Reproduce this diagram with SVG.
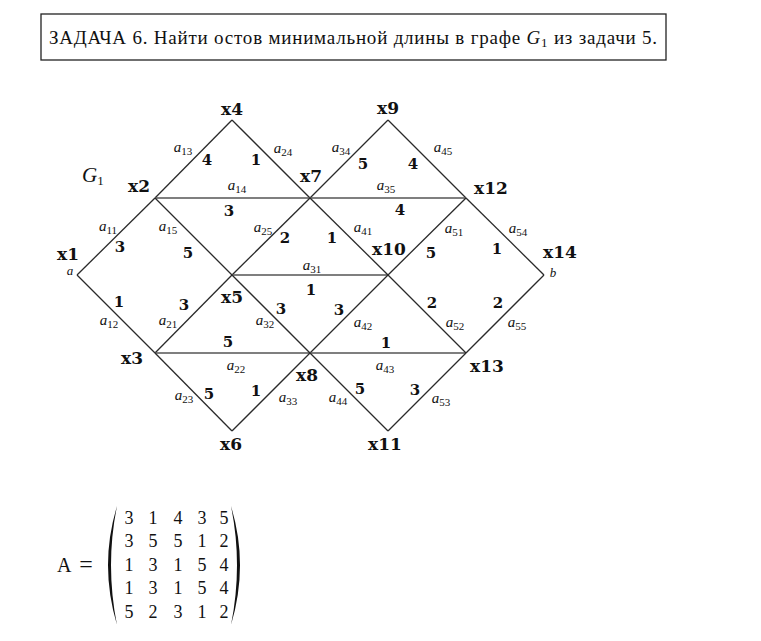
<svg xmlns="http://www.w3.org/2000/svg" width="761" height="641" viewBox="0 0 761 641" font-family="'Liberation Serif', 'Times New Roman', 'DejaVu Serif', serif">
<style>
text{font-family:'Liberation Serif','Times New Roman',serif;fill:#111}
.ttl{font-size:19px}
.nd{font-family:'DejaVu Serif','Liberation Serif',serif;font-weight:bold;font-size:17px;text-anchor:middle}
.w{font-family:'DejaVu Serif','Liberation Serif',serif;font-weight:bold;font-size:15px;text-anchor:middle}
.al{font-style:italic;font-size:15px;text-anchor:middle}
.sub{font-style:normal;font-size:11px}
.mx{font-size:18px;text-anchor:middle}
.e{stroke:#2a2a2a;stroke-width:1.3;fill:none}
.h{stroke:#555;stroke-width:1.6;fill:none}
</style>
<rect x="0" y="0" width="761" height="641" fill="#fff"/>
<g id="title">
<rect x="41" y="14" width="625" height="46" fill="#fff" stroke="#222" stroke-width="1.3"/>
<text class="ttl" x="49" y="44" textLength="608" lengthAdjust="spacing" font-family="'Liberation Serif', serif">ЗАДАЧА 6. Найти остов минимальной длины в графе <tspan font-style="italic">G</tspan><tspan font-size="13" dy="3">1</tspan><tspan dy="-3"> из задачи 5.</tspan></text>
</g>
<g id="connectors">
<line class="e" x1="77" y1="275" x2="155" y2="198"/>
<line class="e" x1="77" y1="275" x2="155" y2="353"/>
<line class="e" x1="155" y1="198" x2="232" y2="120"/>
<line class="e" x1="232" y1="120" x2="310" y2="198"/>
<line class="h" x1="155" y1="198" x2="310" y2="198"/>
<line class="e" x1="155" y1="198" x2="232" y2="275"/>
<line class="e" x1="155" y1="353" x2="232" y2="275"/>
<line class="h" x1="155" y1="353" x2="310" y2="353"/>
<line class="e" x1="155" y1="353" x2="232" y2="431"/>
<line class="e" x1="232" y1="275" x2="310" y2="198"/>
<line class="h" x1="232" y1="275" x2="388" y2="275"/>
<line class="e" x1="232" y1="275" x2="310" y2="353"/>
<line class="e" x1="232" y1="431" x2="310" y2="353"/>
<line class="e" x1="310" y1="198" x2="388" y2="120"/>
<line class="e" x1="388" y1="120" x2="466" y2="198"/>
<line class="h" x1="310" y1="198" x2="466" y2="198"/>
<line class="e" x1="310" y1="198" x2="388" y2="275"/>
<line class="e" x1="310" y1="353" x2="388" y2="275"/>
<line class="h" x1="310" y1="353" x2="466" y2="353"/>
<line class="e" x1="310" y1="353" x2="388" y2="431"/>
<line class="e" x1="388" y1="275" x2="466" y2="198"/>
<line class="e" x1="388" y1="275" x2="466" y2="353"/>
<line class="e" x1="388" y1="431" x2="466" y2="353"/>
<line class="e" x1="466" y1="198" x2="544" y2="275"/>
<line class="e" x1="466" y1="353" x2="544" y2="275"/>
</g>
<g id="edge-labels">
<text class="al" x="183" y="152">a<tspan class="sub" dy="3">13</tspan></text>
<text class="w" x="207" y="165">4</text>
<text class="al" x="283" y="153">a<tspan class="sub" dy="3">24</tspan></text>
<text class="w" x="256" y="165">1</text>
<text class="al" x="341" y="152">a<tspan class="sub" dy="3">34</tspan></text>
<text class="w" x="363" y="169">5</text>
<text class="al" x="443" y="152">a<tspan class="sub" dy="3">45</tspan></text>
<text class="w" x="413" y="169">4</text>
<text class="al" x="237" y="190">a<tspan class="sub" dy="3">14</tspan></text>
<text class="w" x="229" y="216">3</text>
<text class="al" x="386" y="190">a<tspan class="sub" dy="3">35</tspan></text>
<text class="w" x="400" y="215">4</text>
<text class="al" x="108" y="231">a<tspan class="sub" dy="3">11</tspan></text>
<text class="w" x="120" y="252">3</text>
<text class="al" x="168" y="231">a<tspan class="sub" dy="3">15</tspan></text>
<text class="w" x="188" y="258">5</text>
<text class="al" x="263" y="232">a<tspan class="sub" dy="3">25</tspan></text>
<text class="w" x="285" y="243">2</text>
<text class="al" x="363" y="232">a<tspan class="sub" dy="3">41</tspan></text>
<text class="w" x="332" y="243">1</text>
<text class="al" x="454" y="233">a<tspan class="sub" dy="3">51</tspan></text>
<text class="w" x="431" y="258">5</text>
<text class="al" x="518" y="233">a<tspan class="sub" dy="3">54</tspan></text>
<text class="w" x="497" y="254">1</text>
<text class="al" x="312" y="270">a<tspan class="sub" dy="3">31</tspan></text>
<text class="w" x="311" y="295">1</text>
<text class="al" x="109" y="325">a<tspan class="sub" dy="3">12</tspan></text>
<text class="w" x="119" y="307">1</text>
<text class="al" x="168" y="325">a<tspan class="sub" dy="3">21</tspan></text>
<text class="w" x="184" y="310">3</text>
<text class="al" x="265" y="325">a<tspan class="sub" dy="3">32</tspan></text>
<text class="w" x="281" y="314">3</text>
<text class="al" x="363" y="327">a<tspan class="sub" dy="3">42</tspan></text>
<text class="w" x="339" y="315">3</text>
<text class="al" x="455" y="327">a<tspan class="sub" dy="3">52</tspan></text>
<text class="w" x="432" y="308">2</text>
<text class="al" x="517" y="327">a<tspan class="sub" dy="3">55</tspan></text>
<text class="w" x="498" y="308">2</text>
<text class="al" x="236" y="370">a<tspan class="sub" dy="3">22</tspan></text>
<text class="w" x="228" y="347">5</text>
<text class="al" x="385" y="370">a<tspan class="sub" dy="3">43</tspan></text>
<text class="w" x="386" y="348">1</text>
<text class="al" x="184" y="400">a<tspan class="sub" dy="3">23</tspan></text>
<text class="w" x="209" y="399">5</text>
<text class="al" x="288" y="402">a<tspan class="sub" dy="3">33</tspan></text>
<text class="w" x="256" y="396">1</text>
<text class="al" x="338" y="402">a<tspan class="sub" dy="3">44</tspan></text>
<text class="w" x="360" y="394">5</text>
<text class="al" x="441" y="403">a<tspan class="sub" dy="3">53</tspan></text>
<text class="w" x="415" y="395">3</text>
<text x="70" y="275" font-style="italic" font-size="13" text-anchor="middle">a</text>
<text x="553" y="277" font-style="italic" font-size="13" text-anchor="middle">b</text>
<text x="82" y="182" font-style="italic" font-size="21">G<tspan font-style="normal" font-size="13" dy="3">1</tspan></text>
</g>
<g id="x1"><text class="nd" x="68" y="260">x1</text></g>
<g id="x2"><text class="nd" x="139" y="192">x2</text></g>
<g id="x3"><text class="nd" x="132" y="364">x3</text></g>
<g id="x4"><text class="nd" x="232" y="115">x4</text></g>
<g id="x5"><text class="nd" x="232" y="303">x5</text></g>
<g id="x6"><text class="nd" x="231" y="450">x6</text></g>
<g id="x7"><text class="nd" x="311" y="182">x7</text></g>
<g id="x8"><text class="nd" x="307" y="381">x8</text></g>
<g id="x9"><text class="nd" x="388" y="114">x9</text></g>
<g id="x10"><text class="nd" x="389" y="255">x10</text></g>
<g id="x11"><text class="nd" x="385" y="450">x11</text></g>
<g id="x12"><text class="nd" x="491" y="194">x12</text></g>
<g id="x13"><text class="nd" x="487" y="372">x13</text></g>
<g id="x14"><text class="nd" x="560" y="258">x14</text></g>
<g id="matrix">
<text x="57" y="572" font-size="20">A</text>
<text x="86" y="572" font-size="24" text-anchor="middle">=</text>
<path d="M117,506 Q99,565 117,625 Q105,565 117,506 Z" fill="#111"/>
<path d="M231,506 Q249,565 231,625 Q243,565 231,506 Z" fill="#111"/>
<text class="mx" x="129" y="524">3</text><text class="mx" x="153" y="524">1</text><text class="mx" x="178" y="524">4</text><text class="mx" x="202" y="524">3</text><text class="mx" x="224" y="524">5</text>
<text class="mx" x="129" y="547">3</text><text class="mx" x="153" y="547">5</text><text class="mx" x="178" y="547">5</text><text class="mx" x="202" y="547">1</text><text class="mx" x="224" y="547">2</text>
<text class="mx" x="129" y="571">1</text><text class="mx" x="153" y="571">3</text><text class="mx" x="178" y="571">1</text><text class="mx" x="202" y="571">5</text><text class="mx" x="224" y="571">4</text>
<text class="mx" x="129" y="594">1</text><text class="mx" x="153" y="594">3</text><text class="mx" x="178" y="594">1</text><text class="mx" x="202" y="594">5</text><text class="mx" x="224" y="594">4</text>
<text class="mx" x="129" y="618">5</text><text class="mx" x="153" y="618">2</text><text class="mx" x="178" y="618">3</text><text class="mx" x="202" y="618">1</text><text class="mx" x="224" y="618">2</text>
</g>
</svg>
